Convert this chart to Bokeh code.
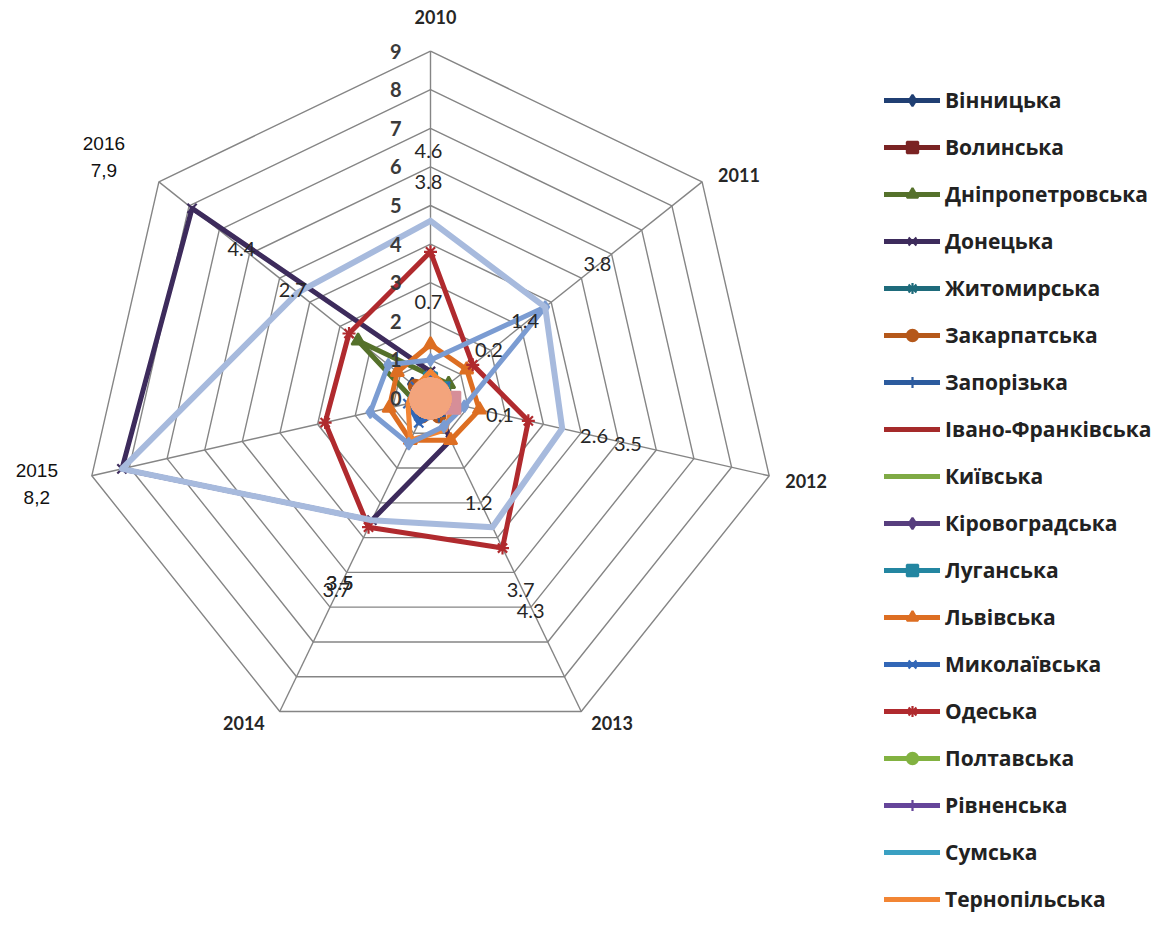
import math
from bokeh.plotting import figure
from bokeh.models import Range1d, Legend, LegendItem
from bokeh.core.properties import value
from bokeh.embed import file_html
from bokeh.resources import INLINE

# ---------------- data ----------------
years = ["2010", "2011", "2012", "2013", "2014", "2015", "2016"]
year_labels = ["2010", "2011", "2012", "2013", "2014", "2015\n8,2", "2016\n7,9"]
ticks = [0, 1, 2, 3, 4, 5, 6, 7, 8, 9]

vinnytska = [0.5, 0.3, 0.3, 0.4, 0.3, 0.3, 0.6]
volynska = [0.2, 0.2, 0.3, 0.2, 0.2, 0.2, 0.3]
dnipro = [0.6, 0.6, 0.5, 0.3, 0.3, 0.4, 2.4]
donetska = [0.7, 0.2, 0.1, 1.2, 3.5, 8.2, 7.9]
zhytomyr = [0.3, 0.2, 0.4, 0.3, 0.4, 0.3, 0.3]
zakarpat = [0.4, 0.3, 0.6, 0.5, 0.5, 0.4, 0.5]
zaporizh = [0.6, 0.4, 0.3, 0.5, 0.6, 0.5, 0.4]
ivano = [0.3, 0.2, 0.4, 0.3, 0.3, 0.2, 0.3]
kyivska = [0.4, 0.3, 0.5, 0.4, 0.2, 0.3, 0.5]
kirovohrad = [0.3, 0.2, 0.2, 0.3, 0.2, 0.2, 0.3]
luhansk = [0.5, 0.4, 0.3, 0.2, 0.3, 0.4, 0.3]
lviv = [1.4, 1.2, 1.3, 1.2, 1.2, 1.1, 1.1]
mykolaiv = [0.6, 0.5, 0.4, 0.4, 0.7, 0.6, 0.5]
odesa = [3.8, 1.4, 2.6, 4.3, 3.7, 2.8, 2.7]
poltava = [0.2, 0.3, 0.2, 0.3, 0.2, 0.3, 0.2]
rivne = [0.3, 0.2, 0.3, 0.2, 0.3, 0.2, 0.3]
sumy = [0.4, 0.5, 0.3, 0.4, 0.3, 0.4, 0.4]
ternopil = [0.7, 0.5, 0.6, 0.9, 1.2, 0.6, 0.5]
# series beyond the visible legend
kharkiv = [1.0, 3.8, 0.9, 0.8, 1.3, 1.6, 1.4]
kherson = [0.0, 0.0, 0.5, 0.0, 0.0, 0.0, 0.0]
cherkasy = [0.0, 0.0, 0.0, 0.0, 0.0, 0.0, 0.0]
kyiv_city = [4.6, 3.8, 3.5, 3.7, 3.5, 8.2, 4.4]

series = [
    ("Вінницька", vinnytska, "#203F73", "diamond"),
    ("Волинська", volynska, "#7A2323", "square"),
    ("Дніпропетровська", dnipro, "#55712B", "triangle"),
    ("Донецька", donetska, "#3D2B5C", "x"),
    ("Житомирська", zhytomyr, "#1E6B7B", "asterisk"),
    ("Закарпатська", zakarpat, "#B5581A", "circle"),
    ("Запорізька", zaporizh, "#2C5B9E", "cross"),
    ("Івано-Франківська", ivano, "#A52A2A", None),
    ("Київська", kyivska, "#7FAA45", None),
    ("Кіровоградська", kirovohrad, "#573E7E", "diamond"),
    ("Луганська", luhansk, "#2386A1", "square"),
    ("Львівська", lviv, "#DD6E22", "triangle"),
    ("Миколаївська", mykolaiv, "#3267B7", "x"),
    ("Одеська", odesa, "#B02A2E", "asterisk"),
    ("Полтавська", poltava, "#82B241", "circle"),
    ("Рівненська", rivne, "#65459A", "cross"),
    ("Сумська", sumy, "#3AA0C2", None),
    ("Тернопільська", ternopil, "#F28534", None),
]
extras = [
    ("Харківська", kharkiv, "#7B9CD2", "diamond", 12, 5),
    ("Херсонська", kherson, "#D68E98", "square", 22, 3),
    ("Черкаська", cherkasy, "#F3A47C", "circle", 40, 3),
    ("м. Київ", kyiv_city, "#A7BADD", None, 0, 6),
]
labelled = [kyiv_city, odesa, donetska]
annotated = {(5, 0), (5, 1), (5, 2), (6, 2)}  # (axis, series) shown as axis annotations

# ---------------- geometry ----------------
W, H = 1154, 927
S = 38.6            # pixels per unit
CX, CY = 430, 398   # centre of the radar in figure pixels
N = len(years)
ang = [2 * math.pi * i / N for i in range(N)]


def px(r, i):
    return r * math.sin(ang[i])


def py(r, i):
    return r * math.cos(ang[i])


p = figure(width=W, height=H,
           x_range=Range1d(-CX / S, (W - CX) / S),
           y_range=Range1d(-(H - CY) / S, CY / S),
           output_backend="svg", toolbar_location=None,
           x_axis_location=None, y_axis_location=None,
           min_border=0, outline_line_color=None,
           background_fill_color="white", border_fill_color="white")
p.grid.visible = False

# grid rings and spokes
rmax = ticks[-1]
ring_xs = [[px(k, i % N) for i in range(N + 1)] for k in ticks[1:]]
ring_ys = [[py(k, i % N) for i in range(N + 1)] for k in ticks[1:]]
p.multi_line(ring_xs, ring_ys, line_color="#858585", line_width=1.4)
p.multi_line([[0, px(rmax, i)] for i in range(N)], [[0, py(rmax, i)] for i in range(N)],
             line_color="#858585", line_width=1.4)

# series
items = []
for name, vals, col, mk in series:
    xs = [px(v, i) for i, v in enumerate(vals)]
    ys = [py(v, i) for i, v in enumerate(vals)]
    rs = [p.line(xs + xs[:1], ys + ys[:1], line_color=col, line_width=5,
                 line_join="round", line_cap="round")]
    if mk:
        rs.append(p.scatter(xs, ys, marker=mk, size=13, fill_color=col,
                            line_color=col, line_width=2.2))
    items.append(LegendItem(label=name, renderers=rs))

for name, vals, col, mk, sz, lw in extras:
    xs = [px(v, i) for i, v in enumerate(vals)]
    ys = [py(v, i) for i, v in enumerate(vals)]
    p.line(xs + xs[:1], ys + ys[:1], line_color=col, line_width=lw,
           line_join="round", line_cap="round")
    if mk:
        p.scatter(xs, ys, marker=mk, size=sz, fill_color=col, line_color=col,
                  line_width=2)

# radial tick labels
p.text(x=[-29 / S] * len(ticks), y=ticks, text=[str(t) for t in ticks],
       text_font=value("Lato"), text_font_size="20px", text_font_style="bold",
       text_color="#3A3A3A", text_align="right", text_baseline="middle")

# data labels (value shown above the point along its axis)
lx, ly, lt = [], [], []
for si, vals in enumerate(labelled):
    for i, v in enumerate(vals):
        if (i, si) in annotated:
            continue
        lx.append(px(v + 1.8, i) - 2 / S)
        ly.append(py(v + 1.8, i))
        lt.append(str(v))
p.text(x=lx, y=ly, text=lt, text_font=value("Lato"), text_font_size="20px",
       text_color="#262626", text_align="center", text_baseline="middle")

# axis (category) labels
offs = [(5, -34, "center"), (16, -7, "left"), (16, 5, "left"), (10, 12, "left"),
        (-15, 12, "right"), (-55, 8, "center"), (-55, -25, "center")]
for i, lab in enumerate(year_labels):
    dx, dy, al = offs[i]
    plain = "\n" in lab
    p.text(x=[px(rmax, i) + dx / S], y=[py(rmax, i) - dy / S], text=[lab],
           text_font=value("Liberation Sans" if plain else "Lato"),
           text_font_size="19px" if plain else "18px",
           text_font_style="normal" if plain else "bold",
           text_color="#111111" if plain else "#262626",
           text_align=al, text_baseline="middle", text_line_height=1.3)

legend = Legend(items=items, location=(884, 14), glyph_width=56, glyph_height=28,
                spacing=19, label_standoff=5, label_height=20, padding=0, margin=0,
                label_text_font="Open Sans", label_text_font_size="21px",
                label_text_font_style="bold", label_text_color="#222222",
                border_line_color=None, background_fill_alpha=0)
p.add_layout(legend)

open("out.html", "w").write(file_html(p, INLINE))
